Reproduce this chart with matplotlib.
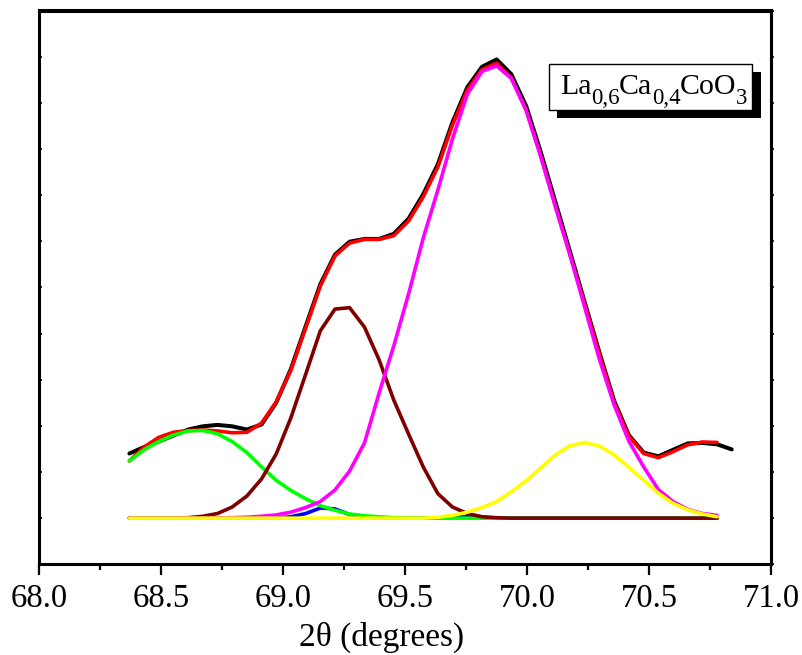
import matplotlib
matplotlib.use("Agg")
import matplotlib.pyplot as plt
from matplotlib.patches import Rectangle
import numpy as np

plt.rcParams['font.family'] = ['Liberation Serif', 'DejaVu Serif']

# 2-theta positions (degrees)
two_theta = [68.369, 68.429, 68.489, 68.549, 68.610, 68.670, 68.730, 68.790, 68.851, 68.911,
             68.971, 69.031, 69.092, 69.152, 69.212, 69.272, 69.333, 69.393, 69.453, 69.514,
             69.574, 69.634, 69.694, 69.755, 69.815, 69.875, 69.935, 69.996, 70.056, 70.116,
             70.176, 70.237, 70.297, 70.357, 70.417, 70.478, 70.538, 70.598, 70.659, 70.719,
             70.779, 70.839]

# observed intensity (black)
observed = [240, 254, 266, 279, 292, 299, 302, 299, 292, 303,
            350, 423, 516, 607, 671, 699, 705, 705, 716, 749,
            802, 867, 958, 1034, 1078, 1094, 1062, 993, 893, 785,
            677, 566, 458, 354, 280, 242, 234, 248, 262, 263,
            260, 249]

# cumulative fit (red)
fit_total = [224, 254, 275, 286, 290, 291, 289, 285, 286, 306,
             352, 420, 512, 603, 668, 696, 704, 704, 712, 744,
             796, 861, 952, 1028, 1072, 1086, 1054, 984, 885, 776,
             670, 562, 454, 350, 278, 240, 231, 244, 259, 265,
             264]

peak_green = [224, 248, 266, 280, 289, 290, 283, 266, 242, 211,
              182, 160, 142, 127, 117, 109, 105, 103, 101, 100,
              100, 100, 100, 100, 100, 100, 100, 100, 100, 100,
              100, 100, 100, 100, 100, 100, 100, 100, 100, 100,
              100]

peak_blue = [100, 100, 100, 100, 100, 100, 100, 100, 100, 100,
             100, 103, 110, 122, 120, 108, 103, 100, 100, 100,
             100, 100, 102, 103, 102, 100, 100, 100, 100, 100,
             100, 100, 100, 100, 100, 100, 100, 100, 100, 100,
             100]

peak_brown = [100, 100, 100, 100, 101, 104, 110, 124, 148, 185,
              239, 317, 412, 506, 553, 556, 514, 443, 356, 282,
              211, 153, 124, 110, 103, 101, 100, 100, 100, 100,
              100, 100, 100, 100, 100, 100, 100, 100, 100, 100,
              100]

peak_magenta = [100, 100, 100, 100, 100, 100, 100, 101, 102, 104,
                107, 113, 123, 136, 161, 202, 263, 371, 473, 586,
                707, 811, 922, 1019, 1068, 1080, 1053, 984, 883, 775,
                670, 555, 443, 345, 267, 211, 162, 136, 119, 110,
                106]

peak_yellow = [100, 100, 100, 100, 100, 100, 100, 100, 100, 100,
               100, 100, 100, 100, 100, 100, 100, 100, 100, 100,
               100, 102, 106, 113, 123, 136, 157, 181, 209, 237,
               257, 264, 256, 237, 210, 182, 154, 132, 118, 109,
               103]

x_ticks = [68.0, 68.5, 69.0, 69.5, 70.0, 70.5, 71.0]
x_tick_labels = ['68.0', '68.5', '69.0', '69.5', '70.0', '70.5', '71.0']

W, H = 803, 655
fig = plt.figure(figsize=(W / 100, H / 100), dpi=100)
ax = fig.add_axes([39.4 / W, (H - 564.3) / H, (771 - 39.4) / W, (564.3 - 10.5) / H])

xc = two_theta[:len(fit_total)]
lw = 2.6
kw = dict(solid_capstyle='round', solid_joinstyle='round')
ax.plot(two_theta, observed, color='black', lw=lw + 0.3, zorder=2, **kw)
ax.plot(xc, fit_total, color='#ff0000', lw=lw, zorder=3, **kw)
ax.plot(xc, peak_blue, color='#0000ff', lw=lw, zorder=4, **kw)
ax.plot(xc, peak_green, color='#00ff00', lw=lw, zorder=5, **kw)
ax.plot(xc, peak_brown, color='#800000', lw=lw, zorder=6, **kw)
ax.plot(xc, peak_magenta, color='#ff00ff', lw=lw, zorder=7, **kw)
ax.plot(xc, peak_yellow, color='#ffff00', lw=lw, zorder=8, **kw)

ax.set_xlim(68.0, 71.0)
ax.set_ylim(0, 1200)
ax.set_xticks(x_ticks)
ax.set_xticklabels(x_tick_labels)
ax.set_xticks(np.arange(68.25, 71.0, 0.5), minor=True)
ax.set_yticks(np.arange(100, 1200, 100))
ax.set_yticklabels([])
ax.tick_params(axis='x', which='major', direction='out', length=8, width=1.6,
               labelsize=23.5, pad=6, top=False)
ax.tick_params(axis='x', which='minor', direction='out', length=4.5, width=1.6, top=False)
ax.tick_params(axis='y', which='major', direction='in', length=2, width=1.2, right=False)
for s in ax.spines.values():
    s.set_linewidth(2.2)

secx = ax.secondary_xaxis('top')
secx.set_xticks(np.arange(68.0, 71.01, 0.25))
secx.tick_params(direction='in', length=2, width=1.2, labeltop=False)
secx.spines['top'].set_linewidth(2.2)
secy = ax.secondary_yaxis('right')
secy.set_yticks(np.arange(0, 1201, 100))
secy.tick_params(direction='out', length=2, width=1.2, labelright=False)
secy.spines['right'].set_linewidth(2.2)

ax.set_xlabel('2θ (degrees)', fontsize=24)
ax.xaxis.set_label_coords((381.5 - 39.4) / (771 - 39.4), -0.103)

# formula box with shadow (figure pixel coordinates)
fig.patches.append(Rectangle((557 / W, (H - 118) / H), 204 / W, 46 / H,
                             transform=fig.transFigure, facecolor='black',
                             edgecolor='black', lw=0, zorder=10))
fig.patches.append(Rectangle((549 / W, (H - 110) / H), 203 / W, 46 / H,
                             transform=fig.transFigure, facecolor='white',
                             edgecolor='black', lw=1.0, zorder=11))

fig.canvas.draw()
r = fig.canvas.get_renderer()
pieces = [('La', 21.5, 0), ('0,6', 16.5, -10), ('Ca', 21.5, 0), ('0,4', 16.5, -10),
          ('CoO', 21.5, 0), ('3', 16.5, -10)]
xpos = 560.0
base = H - 94.3
for txt, size, dy in pieces:
    t = fig.text(xpos / W, (base + dy) / H, txt, fontsize=size, va='baseline',
                 ha='left', zorder=12)
    bb = t.get_window_extent(r)
    xpos += bb.width - 0.5

fig.savefig('out.png', dpi=100)
